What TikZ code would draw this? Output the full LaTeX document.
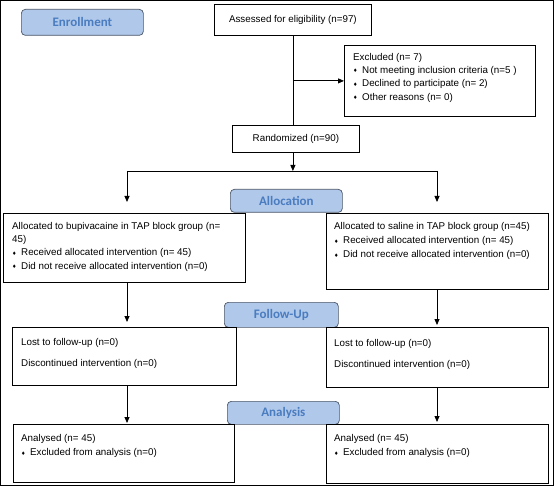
\documentclass[tikz,border=0pt]{standalone}
\usepackage{fontspec}
\setmainfont{Liberation Sans}
\newfontfamily\bannerfont{Carlito}
\newfontfamily\dejavu{DejaVu Sans}
\usetikzlibrary{arrows.meta}

\definecolor{bannerfill}{HTML}{B0C8EA}
\definecolor{bannertext}{HTML}{4A7CC0}
\definecolor{bannerline}{HTML}{4A5566}

\newcommand{\bul}{\makebox[9pt][l]{\raisebox{0.6pt}{\dejavu\fontsize{5}{5}\selectfont ♦}}}

\tikzset{
  caja/.style={draw=black, line width=0.8pt, anchor=north west, inner sep=0pt},
  etapa/.style={draw=bannerline, fill=bannerfill, rounded corners=4pt, line width=0.7pt,
    anchor=north west, inner sep=0pt, text=bannertext,
    font=\bannerfont\bfseries\fontsize{13}{15}\selectfont},
  texto/.style={anchor=north west, inner sep=0pt, align=left,
    font=\fontsize{9.8}{13.3}\selectfont},
  flecha/.style={-{Triangle[length=6pt,width=5pt]}, line width=0.8pt},
  linea/.style={line width=0.8pt}
}

\begin{document}
\begin{tikzpicture}[x=1pt, y=-1pt]

			\useasboundingbox (0,0) rectangle (554,486);
			\draw[line width=0.8pt] (0.5,0.5) rectangle (553.5,485.5); % Marco

			% Etapas
			\node[etapa, minimum width=122pt, minimum height=26pt] (enrol) at (21,9) {Enrollment};
			\node[etapa, minimum width=112pt, minimum height=23pt] (asig) at (230,189) {Allocation};
			\node[etapa, minimum width=114pt, minimum height=25pt] (segui) at (224,302) {Follow-Up};
			\node[etapa, minimum width=112pt, minimum height=23pt] (analis) at (227,401) {Analysis};

			% Inclusión
			\node[caja, minimum width=157pt, minimum height=31pt, font=\fontsize{9.8}{12}\selectfont] (evalua) at (214,4) {Assessed for eligibility (n=97)};
			\node[caja, minimum width=191pt, minimum height=71pt] (excl) at (344,45) {};
			\node[texto] (exclT) at ([shift={(9,8)}]excl.north west) {Excluded (n= 7)\\
				\bul Not meeting inclusion criteria (n=5 )\\
				\bul Declined to participate (n= 2)\\
				\bul Other reasons (n= 0)};
			\node[caja, minimum width=127pt, minimum height=27pt, font=\fontsize{9.8}{12}\selectfont] (aleat) at (232,125) {Randomized (n=90)};

			% Asignación
			\node[caja, minimum width=242pt, minimum height=69pt] (bupi) at (3,213) {};
			\node[texto] (bupiT) at ([shift={(9,9)}]bupi.north west) {Allocated to bupivacaine in TAP block group (n=\\
				45)\\
				\bul Received allocated intervention (n= 45)\\
				\bul Did not receive allocated intervention (n=0)};
			\node[caja, minimum width=222pt, minimum height=76pt] (sal) at (326,213) {};
			\node[texto] (salT) at ([shift={(8,9)}]sal.north west) {Allocated to saline in TAP block group (n=45)\\[1pt]
				\bul Received allocated intervention (n= 45)\\[1pt]
				\bul Did not receive allocated intervention (n=0)};

			% Seguimiento
			\node[caja, minimum width=224pt, minimum height=58pt] (segI) at (12,327) {};
			\node[texto] (segIT) at ([shift={(9,11)}]segI.north west) {Lost to follow-up (n=0)\\[7.5pt]
				Discontinued intervention (n=0)};
			\node[caja, minimum width=222pt, minimum height=60pt] (segD) at (326,327) {};
			\node[texto] (segDT) at ([shift={(8,12)}]segD.north west) {Lost to follow-up (n=0)\\[7.5pt]
				Discontinued intervention (n=0)};

			% Análisis
			\node[caja, minimum width=221pt, minimum height=58pt] (anaI) at (13,424) {};
			\node[texto] (anaIT) at ([shift={(8,10)}]anaI.north west) {Analysed (n= 45)\\[1pt]
				\bul Excluded from analysis (n=0)};
			\node[caja, minimum width=222pt, minimum height=59pt] (anaD) at (326,424) {};
			\node[texto] (anaDT) at ([shift={(8,10)}]anaD.north west) {Analysed (n= 45)\\[1pt]
				\bul Excluded from analysis (n=0)};

			% Conectores
			\coordinate (division) at (evalua.south |- 0,171);
			\coordinate (izq) at (127,171);
			\coordinate (der) at (437,171);
			\draw[linea] (evalua.south) -- (evalua.south |- aleat.north);
			\draw[flecha] (evalua.south |- excl.west) -- (excl.west);
			\draw[flecha] (aleat.south -| division) -- (division);
			\draw[linea] (izq) -- (der);
			\draw[flecha, shorten >=11pt] (izq) -- (izq |- bupi.north);
			\draw[flecha, shorten >=11pt] (der) -- (der |- sal.north);
			\draw[flecha, shorten >=5pt] (bupi.south -| izq) -- (segI.north -| izq);
			\draw[flecha, shorten >=2pt] (sal.south -| der) -- (segD.north -| der);
			\draw[flecha, shorten >=1pt] (segI.south -| izq) -- (anaI.north -| izq);
			\draw[flecha, shorten >=2pt] (segD.south -| der) -- (anaD.north -| der);

		\end{tikzpicture}
\end{document}
